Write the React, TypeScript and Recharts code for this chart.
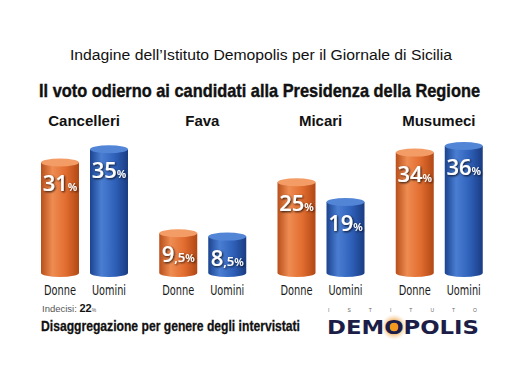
import React from 'react';
import { BarChart, Bar, XAxis, YAxis } from 'recharts';

// dati
const categories = ['Cancelleri', 'Fava', 'Micari', 'Musumeci'];
const donne = [31, 9.5, 25, 34];
const uomini = [35, 8.5, 19, 36];
const seriesNames = ['Donne', 'Uomini'];
const indecisi = 22;

const data = categories.map((name, i) => ({ name, donne: donne[i], uomini: uomini[i] }));

const palette: Record<string, { stops: string[]; top: string }> = {
  donne: { stops: ['#b84f1a', '#ee8c52', '#e26d30', '#b14815'], top: '#f39c66' },
  uomini: { stops: ['#1b438f', '#4a7ed2', '#2f61ba', '#1a3c82'], top: '#5285d6' },
};

const condensed = '"Liberation Sans Narrow", "DejaVu Sans Condensed", "Liberation Sans", sans-serif';
const sans = '"Liberation Sans", Arial, sans-serif';

// testo "stretto": scala orizzontale + textLength per la larghezza esatta
function SquishText({ x, y, width, scale, anchor = 'start', children, ...rest }: any) {
  return (
    <text transform={`translate(${x},${y}) scale(${scale},1)`} x={0} y={0} textAnchor={anchor}
      textLength={width / scale} lengthAdjust="spacingAndGlyphs" {...rest}>
      {children}
    </text>
  );
}

function ValueText({ cx, y, value }: { cx: number; y: number; value: number }) {
  const [intPart, decPart] = value.toString().split('.');
  return (
    <text x={cx} y={y} textAnchor="middle" fill="#fff" filter="url(#txtShadow)"
      fontFamily='"Open Sans", "Liberation Sans", sans-serif' fontWeight={600}>
      <tspan fontSize={22}>{intPart}</tspan>
      {decPart && <tspan fontSize={13}>,{decPart}</tspan>}
      <tspan fontSize={11}>%</tspan>
    </text>
  );
}

function Cylinder(props: any) {
  const { x, y, width, height, background, k, label } = props;
  const v = props.payload[k];
  const bottom = background ? background.y + background.height : y + height;
  const ry = 4;
  const cx = x + width / 2;
  const d = `M${x},${y + ry} L${x},${bottom - ry} A${width / 2},${ry} 0 0 0 ${x + width},${bottom - ry} L${x + width},${y + ry} Z`;
  return (
    <g>
      <path d={d} fill={`url(#grad-${k})`} />
      <ellipse cx={cx} cy={y + ry} rx={width / 2} ry={ry} fill={palette[k].top} />
      <ValueText cx={cx} y={y + 33} value={v} />
      <text x={cx} y={bottom + 18} textAnchor="middle" fontFamily={condensed} fontSize={14}
        fill="#1a1a1a" textLength={label === 'Donne' ? 32 : 34} lengthAdjust="spacingAndGlyphs">
        {label}
      </text>
    </g>
  );
}

function CategoryTick({ x, y, payload }: any) {
  return (
    <text x={x} y={y} dy={-8} textAnchor="middle" fontFamily={sans}
      fontWeight="bold" fontSize={15} fill="#111">
      {payload.value}
    </text>
  );
}

export default function App() {
  return (
    <div style={{ position: 'absolute', left: 0, top: 0, width: 520, height: 386, background: '#fff', overflow: 'hidden' }}>
      <BarChart width={520} height={386} data={data} barSize={38} barGap={11}
        margin={{ top: 112, right: 22, bottom: 109, left: 25 }}>
        <defs>
          {Object.keys(palette).map((k) => (
            <linearGradient key={k} id={`grad-${k}`} x1="0" y1="0" x2="1" y2="0">
              <stop offset="0%" stopColor={palette[k].stops[0]} />
              <stop offset="30%" stopColor={palette[k].stops[1]} />
              <stop offset="65%" stopColor={palette[k].stops[2]} />
              <stop offset="100%" stopColor={palette[k].stops[3]} />
            </linearGradient>
          ))}
          <filter id="txtShadow" x="-20%" y="-20%" width="140%" height="140%">
            <feDropShadow dx="1" dy="1" stdDeviation="1.2" floodColor="#000" floodOpacity="0.85" />
          </filter>
        </defs>
        <XAxis dataKey="name" orientation="top" height={30} axisLine={false} tickLine={false}
          interval={0} tick={<CategoryTick />} />
        <YAxis hide domain={[-5, 36]} />
        <Bar dataKey="donne" name={seriesNames[0]} isAnimationActive={false}
          shape={(p: any) => <Cylinder {...p} k="donne" label={seriesNames[0]} />} />
        <Bar dataKey="uomini" name={seriesNames[1]} isAnimationActive={false}
          shape={(p: any) => <Cylinder {...p} k="uomini" label={seriesNames[1]} />} />
      </BarChart>

      <svg width={520} height={386} style={{ position: 'absolute', left: 0, top: 0, pointerEvents: 'none' }}>
        <defs>
          <radialGradient id="glow">
            <stop offset="0%" stopColor="#f5a623" stopOpacity={1} />
            <stop offset="45%" stopColor="#f0a040" stopOpacity={0.9} />
            <stop offset="100%" stopColor="#f5d5a8" stopOpacity={0} />
          </radialGradient>
        </defs>
        <text x={261} y={60} textAnchor="middle" fontFamily={sans}
          fontSize={14} fill="#111" textLength={382} lengthAdjust="spacingAndGlyphs">
          Indagine dell’Istituto Demopolis per il Giornale di Sicilia
        </text>
        <SquishText x={259.5} y={97} width={441} scale={0.76} anchor="middle" fontFamily={sans}
          fontWeight="bold" fontSize={18} fill="#111" stroke="#111" strokeWidth={0.4}>
          Il voto odierno ai candidati alla Presidenza della Regione
        </SquishText>
        <text x={42} y={312} fontFamily={sans} fill="#555" fontSize={9.5}>
          Indecisi: <tspan fontWeight="bold" fill="#111" fontSize={11}>{indecisi}</tspan>
          <tspan fontSize={5}>%</tspan>
        </text>
        <SquishText x={41} y={331} width={259} scale={0.72} fontFamily={sans} fontWeight="bold"
          fontSize={15} fill="#111" stroke="#111" strokeWidth={0.3}>
          Disaggregazione per genere degli intervistati
        </SquishText>
        <circle cx={394} cy={327} r={13} fill="url(#glow)" />
        <text x={328} y={312} fontFamily={sans} fontSize={5} fill="#666"
          textLength={149} lengthAdjust="spacing">
          I S T I T U T O
        </text>
        <text x={327} y={334} fontFamily='"DejaVu Sans", sans-serif' fontWeight="bold" fontSize={19}
          fill="#1c1e48" textLength={152} lengthAdjust="spacingAndGlyphs">
          DEMOPOLIS
        </text>
        <circle cx={394} cy={327} r={4} fill="#f39a1e" />
      </svg>
    </div>
  );
}
